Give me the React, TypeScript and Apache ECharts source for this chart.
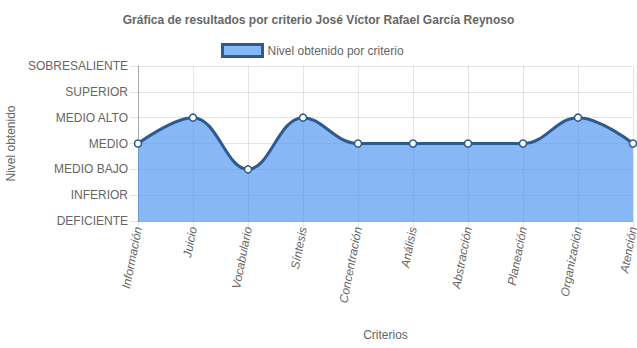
import React, { useEffect, useRef } from "react";
import * as echarts from "echarts";

const criterios = [
  "Información",
  "Juicio",
  "Vocabulario",
  "Síntesis",
  "Concentración",
  "Análisis",
  "Abstracción",
  "Planeación",
  "Organización",
  "Atención",
];
const niveles = ["DEFICIENTE", "INFERIOR", "MEDIO BAJO", "MEDIO", "MEDIO ALTO", "SUPERIOR", "SOBRESALIENTE"];
const valores = [3, 4, 2, 4, 3, 3, 3, 3, 4, 3];

const FONT = "'Liberation Sans', Arial, Helvetica, sans-serif";

export default function App() {
  const ref = useRef<HTMLDivElement>(null);
  useEffect(() => {
    if (!ref.current) return;
    const chart = echarts.init(ref.current, undefined, { renderer: "svg" });
    chart.setOption({
      animation: false,
      textStyle: { fontFamily: FONT },
      title: {
        text: "Gráfica de resultados por criterio José Víctor Rafael García Reynoso",
        left: "center",
        top: 9,
        textStyle: { fontFamily: FONT, fontSize: 12, fontWeight: "bold", color: "#666" },
      },
      legend: {
        top: 38,
        left: 216,
        itemWidth: 40,
        itemHeight: 12,
        itemGap: 6,
        icon: "rect",
        textStyle: { fontFamily: FONT, fontSize: 12, color: "#666" },
        data: [
          {
            name: "Nivel obtenido por criterio",
            itemStyle: { color: "#88b8f5", borderColor: "#2d5b8f", borderWidth: 3 },
          },
        ],
      },
      grid: { left: 138, right: 4, top: 66, bottom: 127, containLabel: false, outerBoundsMode: "none" },
      xAxis: {
        type: "category",
        data: criterios,
        boundaryGap: false,
        name: "Criterios",
        nameLocation: "middle",
        nameGap: 108,
        nameTextStyle: { fontFamily: FONT, fontSize: 12, color: "#666" },
        axisLine: { lineStyle: { color: "rgba(0,0,0,0.25)" } },
        axisTick: { show: true, length: 8, lineStyle: { color: "rgba(0,0,0,0.1)" } },
        axisLabel: {
          rotate: 79,
          fontStyle: "italic",
          fontSize: 12,
          color: "#666",
          fontFamily: FONT,
          margin: 6,
          interval: 0,
        },
        splitLine: { show: true, lineStyle: { color: "rgba(0,0,0,0.1)" } },
      },
      yAxis: {
        type: "value",
        min: 0,
        max: 6,
        interval: 1,
        name: "Nivel obtenido",
        nameLocation: "middle",
        nameGap: 120,
        nameRotate: 90,
        nameTextStyle: { fontFamily: FONT, fontSize: 12, color: "#666" },
        axisLine: { show: true, lineStyle: { color: "rgba(0,0,0,0.25)" } },
        axisTick: { show: true, length: 8, lineStyle: { color: "rgba(0,0,0,0.1)" } },
        axisLabel: {
          fontSize: 12,
          color: "#666",
          fontFamily: FONT,
          margin: 10,
          formatter: (v: number) => niveles[v] ?? "",
        },
        splitLine: { show: true, lineStyle: { color: "rgba(0,0,0,0.1)" } },
      },
      series: [
        {
          name: "Nivel obtenido por criterio",
          type: "line",
          data: valores,
          smooth: 0.4,
          symbol: "circle",
          symbolSize: 7,
          showSymbol: true,
          lineStyle: { color: "#2d5b8f", width: 3 },
          itemStyle: { color: "#ffffff", borderColor: "#2d5b8f", borderWidth: 1.5 },
          areaStyle: { color: "rgba(70,145,240,0.65)", opacity: 1, origin: "start" },
        },
      ],
    });
    return () => chart.dispose();
  }, []);
  return <div ref={ref} style={{ width: 637, height: 348, position: "absolute", left: 0, top: 0 }} />;
}
